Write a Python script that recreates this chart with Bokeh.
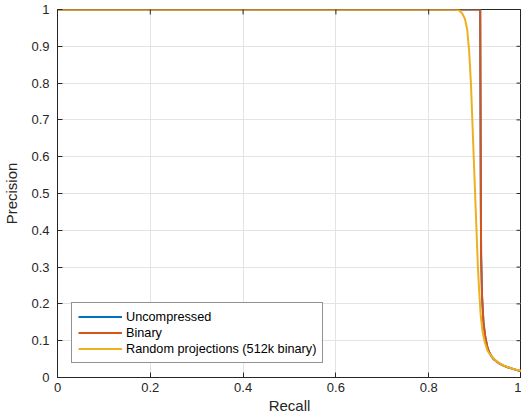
import math
from bokeh.plotting import figure
from bokeh.models import FixedTicker, Legend, LegendItem, Range1d
from bokeh.embed import file_html
from bokeh.resources import INLINE

# Data
recall_unc = [0.0, 0.5, 0.911, 0.9115, 0.912, 0.9125, 0.913, 0.915, 0.918, 0.922, 0.926, 0.93, 0.935, 0.94, 0.95, 0.96, 0.97, 0.98, 0.99, 1.0]
prec_unc   = [1.0, 1.0, 1.0, 0.8, 0.6, 0.45, 0.33, 0.22, 0.15, 0.11, 0.085, 0.07, 0.058, 0.05, 0.04, 0.033, 0.028, 0.024, 0.02, 0.017]

recall_bin = [0.0, 0.5, 0.911, 0.9115, 0.912, 0.9125, 0.913, 0.915, 0.918, 0.922, 0.926, 0.93, 0.935, 0.94, 0.95, 0.96, 0.97, 0.98, 0.99, 1.0]
prec_bin   = [1.0, 1.0, 1.0, 0.8, 0.6, 0.45, 0.33, 0.22, 0.15, 0.11, 0.085, 0.07, 0.058, 0.05, 0.04, 0.033, 0.028, 0.024, 0.02, 0.017]

recall_rp = [0.0, 0.5, 0.855, 0.865, 0.872, 0.878, 0.883, 0.887, 0.891, 0.894, 0.897, 0.9, 0.903, 0.906, 0.909, 0.912, 0.916, 0.921, 0.927, 0.935, 0.945, 0.96, 0.98, 1.0]
prec_rp   = [1.0, 1.0, 1.0, 0.998, 0.99, 0.975, 0.945, 0.89, 0.8, 0.7, 0.6, 0.5, 0.4, 0.3, 0.23, 0.17, 0.125, 0.095, 0.072, 0.058, 0.045, 0.033, 0.024, 0.018]

xticks = [0, 0.2, 0.4, 0.6, 0.8, 1]
xtick_labels = ["0", "0.2", "0.4", "0.6", "0.8", "1"]
yticks = [0, 0.1, 0.2, 0.3, 0.4, 0.5, 0.6, 0.7, 0.8, 0.9, 1]
ytick_labels = ["0", "0.1", "0.2", "0.3", "0.4", "0.5", "0.6", "0.7", "0.8", "0.9", "1"]

series_names = ["Uncompressed", "Binary", "Random projections (512k binary)"]
colors = ["#0072BD", "#D95319", "#EDB120"]

FONT = "Liberation Sans"
TXT = "#262626"

p = figure(width=521, height=418, output_backend="svg", toolbar_location=None,
           x_range=Range1d(0, 1), y_range=Range1d(0, 1),
           min_border_left=56, min_border_right=0, min_border_top=9, min_border_bottom=41)

p.outline_line_color = TXT
p.outline_line_width = 1

for ax, ticks, labels in ((p.xaxis[0], xticks, xtick_labels), (p.yaxis[0], yticks, ytick_labels)):
    ax.ticker = FixedTicker(ticks=ticks)
    ax.major_label_overrides = {t: l for t, l in zip(ticks, labels)}
    ax.major_tick_in = 5
    ax.major_tick_out = 0
    ax.minor_tick_line_color = None
    ax.axis_line_color = TXT
    ax.major_tick_line_color = TXT
    ax.major_label_text_font = FONT
    ax.major_label_text_font_size = "13px"
    ax.major_label_text_color = TXT
    ax.axis_label_text_font = FONT
    ax.axis_label_text_font_size = "15px"
    ax.axis_label_text_font_style = "normal"
    ax.axis_label_text_color = TXT

p.xaxis.axis_label = "Recall"
p.yaxis.axis_label = "Precision"
p.xaxis.major_label_standoff = 5
p.xaxis.axis_label_standoff = 2
p.yaxis.major_label_standoff = 8
p.yaxis.axis_label_standoff = 8

p.xgrid.ticker = FixedTicker(ticks=xticks)
p.ygrid.ticker = FixedTicker(ticks=yticks)
p.grid.grid_line_color = "#e3e3e3"
p.grid.grid_line_width = 1

r1 = p.line(recall_unc, prec_unc, line_color=colors[0], line_width=2)
r2 = p.line(recall_bin, prec_bin, line_color=colors[1], line_width=2)
r3 = p.line(recall_rp, prec_rp, line_color=colors[2], line_width=2)

# mirrored inward ticks on the top and right edges of the box (clipped to frame)
p.scatter(x=[p.x_range.end] * len(yticks), y=yticks, marker="dash", size=10,
          line_color=TXT, line_width=1)
p.scatter(x=xticks, y=[p.y_range.end] * len(xticks), marker="dash", size=10, angle=math.pi / 2,
          line_color=TXT, line_width=1)

legend = Legend(items=[LegendItem(label=n, renderers=[r]) for n, r in zip(series_names, [r1, r2, r3])],
                location=(14, 14))
legend.border_line_color = TXT
legend.border_line_width = 1
legend.background_fill_color = "white"
legend.background_fill_alpha = 1
legend.label_text_font = FONT
legend.label_text_font_size = "12.7px"
legend.label_text_color = "black"
legend.glyph_width = 44
legend.glyph_height = 15
legend.label_height = 15
legend.label_standoff = 4
legend.spacing = 1
legend.padding = 6
legend.margin = 0
legend.label_text_baseline = "middle"
p.add_layout(legend, "center")

open("out.html", "w").write(file_html(p, INLINE))
